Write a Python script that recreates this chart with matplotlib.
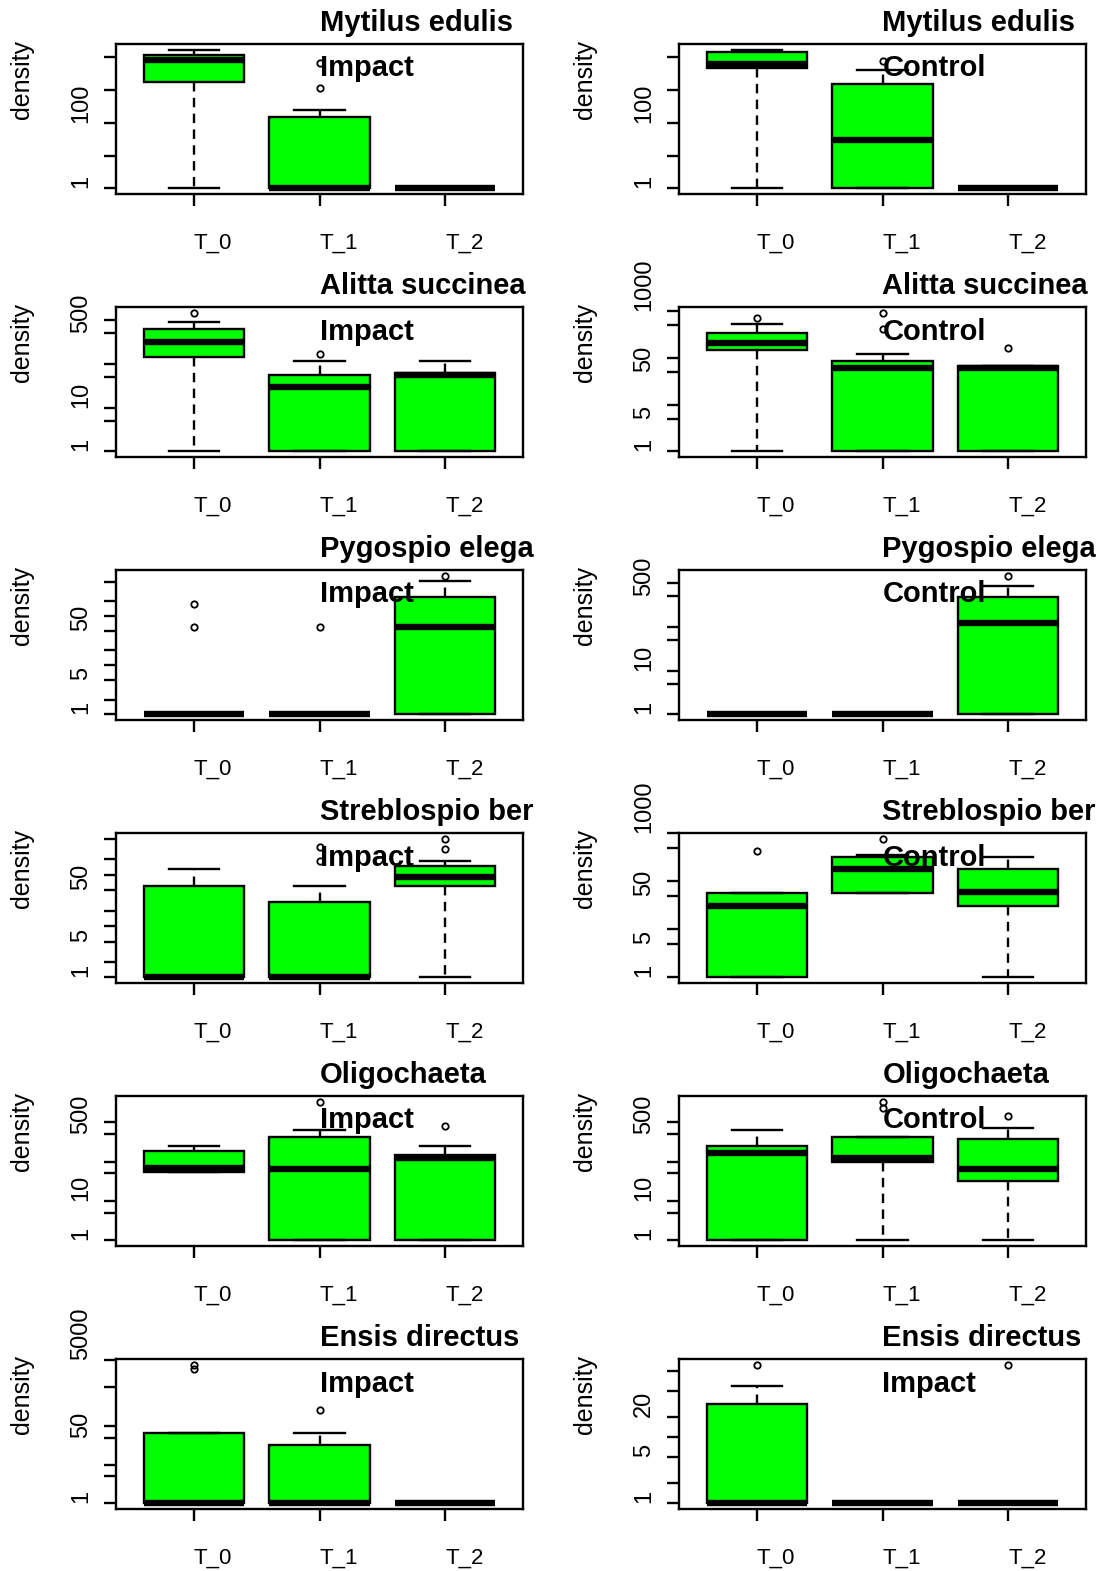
import numpy as np
import matplotlib.pyplot as plt
from matplotlib.ticker import NullLocator
from matplotlib.transforms import offset_copy

plt.rcParams['font.family'] = ['Liberation Sans', 'DejaVu Sans']

W, H = 1110, 1571

groups = ['T_0', 'T_1', 'T_2']
titles = ['Mytilus edulis', 'Mytilus edulis',
          'Alitta succinea', 'Alitta succinea',
          'Pygospio elega', 'Pygospio elega',
          'Streblospio ber', 'Streblospio ber',
          'Oligochaeta', 'Oligochaeta',
          'Ensis directus', 'Ensis directus']
sites = ['Impact', 'Control'] * 5 + ['Impact', 'Impact']

# (lower whisker, Q1, median, Q3, upper whisker) for T_0, T_1, T_2
mytilus_imp = [(1, 1720, 8300, 11800, 16800), (1, 1, 1, 152, 250), (1, 1, 1, 1, 1)]
mytilus_ctl = [(1, 4570, 6200, 14500, 16800), (1, 1, 29.5, 1490, 4030), (1, 1, 1, 1, 1)]
alitta_imp = [(1, 145, 310, 620, 900), (1, 1, 30, 56, 117), (1, 1, 55, 63, 117)]
alitta_ctl = [(1, 147, 202, 338, 514), (1, 1, 61, 85, 118), (1, 1, 59, 67, 67)]
pygo_imp = [(1, 1, 1, 1, 1), (1, 1, 1, 1, 1), (1, 1, 60, 247, 512)]
pygo_ctl = [(1, 1, 1, 1, 1), (1, 1, 1, 1, 1), (1, 1, 124, 485, 871)]
streb_imp = [(1, 1, 1, 61, 128), (1, 1, 1, 30, 61), (1, 61, 92, 149, 190)]
streb_ctl = [(1, 1, 30, 58, 58), (58, 58, 180, 313, 352), (1, 30, 59, 183, 313)]
oligo_imp = [(55, 55, 68, 191, 248), (1, 1, 65, 422, 650), (1, 1, 124, 149, 248)]
oligo_ctl = [(1, 1, 167, 248, 650), (1, 97, 122, 422, 422), (1, 33, 64, 366, 718)]
ensis_imp = [(1, 1, 1, 66, 66), (1, 1, 1, 33, 66), (1, 1, 1, 1, 1)]
ensis_ctl = [(1, 1, 1, 31, 59), (1, 1, 1, 1, 1), (1, 1, 1, 1, 1)]

# outliers per group
mytilus_imp_out = [[], [1120, 6600], []]
mytilus_ctl_out = [[], [7670], []]
alitta_imp_out = [[1480], [165], []]
alitta_ctl_out = [[715], [412, 919], [165]]
pygo_imp_out = [[60, 175], [60], [668]]
pygo_ctl_out = [[], [], [1480]]
streb_imp_out = [[], [190, 349], [318, 510]]
streb_ctl_out = [[435], [771], []]
oligo_imp_out = [[], [3340], [808]]
oligo_ctl_out = [[], [2245, 3340], [1425]]
ensis_imp_out = [[2910, 3880], [253], []]
ensis_ctl_out = [[123], [], [123]]

# y axis ticks and the labels R actually printed
ticks_dec = [1, 10, 100, 1000, 10000]
ticks_15 = [1, 5, 10, 50, 100, 500, 1000]
ticks_125 = [1, 2, 5, 10, 20, 50, 100, 200, 500]
ticks_ensis_imp = [1, 5, 10, 50, 100, 1000, 5000]
ticks_ensis_ctl = [1, 2, 5, 10, 20, 50, 100]

panels = [
    (mytilus_imp, mytilus_imp_out, ticks_dec, [1, 100]),
    (mytilus_ctl, mytilus_ctl_out, ticks_dec, [1, 100]),
    (alitta_imp, alitta_imp_out, ticks_15, [1, 10, 500]),
    (alitta_ctl, alitta_ctl_out, ticks_15, [1, 5, 50, 1000]),
    (pygo_imp, pygo_imp_out, ticks_125, [1, 5, 50]),
    (pygo_ctl, pygo_ctl_out, ticks_15, [1, 10, 500]),
    (streb_imp, streb_imp_out, ticks_125, [1, 5, 50]),
    (streb_ctl, streb_ctl_out, ticks_15, [1, 5, 50, 1000]),
    (oligo_imp, oligo_imp_out, ticks_15, [1, 10, 500]),
    (oligo_ctl, oligo_ctl_out, ticks_15, [1, 10, 500]),
    (ensis_imp, ensis_imp_out, ticks_ensis_imp, [1, 50, 5000]),
    (ensis_ctl, ensis_ctl_out, ticks_ensis_ctl, [1, 5, 20]),
]

fig = plt.figure(figsize=(W / 100, H / 100), dpi=100)

col_x = [116, 679]
box_w, box_h = 407, 150
lw = 1.7

for k, (summ, outs, ticks, shown) in enumerate(panels):
    row, col = divmod(k, 2)
    top = 44 + 263 * row
    ax = fig.add_axes([col_x[col] / W, 1 - (top + box_h) / H, box_w / W, box_h / H])

    stats = []
    for (lo, q1, med, q3, hi), fl in zip(summ, outs):
        stats.append(dict(whislo=lo, q1=q1, med=med, q3=q3, whishi=hi, fliers=fl))
    ax.bxp(stats, positions=[1, 2, 3], widths=0.8, patch_artist=True,
           manage_ticks=False, capwidths=0.4,
           boxprops=dict(facecolor='#00ff00', edgecolor='black', linewidth=lw),
           medianprops=dict(color='black', linewidth=4.6, solid_capstyle='butt'),
           whiskerprops=dict(color='black', linewidth=lw, linestyle=(0, (4, 2.7))),
           capprops=dict(color='black', linewidth=lw),
           flierprops=dict(marker='o', markerfacecolor='none', markeredgecolor='black',
                           markersize=4.6, markeredgewidth=1.3))

    # R style log axis: data range padded by 4% on each side
    allv = [v for s in summ for v in s] + [v for f in outs for v in f]
    lmin, lmax = np.log10(min(allv)), np.log10(max(allv))
    pad = 0.04 * (lmax - lmin)
    ax.set_yscale('log')
    ax.set_ylim(10 ** (lmin - pad), 10 ** (lmax + pad))
    ax.set_xlim(0.38, 3.62)

    ax.set_yticks(ticks, [str(t) if t in shown else '' for t in ticks])
    ax.yaxis.set_minor_locator(NullLocator())
    ax.set_xticks([1, 2, 3], groups)
    ax.tick_params(axis='both', direction='out', length=8.6, width=lw, labelsize=16)
    ax.tick_params(axis='y', labelsize=17, pad=8.5)
    ax.tick_params(axis='x', pad=31)
    plt.setp(ax.get_xticklabels(), ha='left', va='baseline')
    plt.setp(ax.get_yticklabels(), rotation=90, ha='right', va='bottom')
    for sp in ax.spines.values():
        sp.set_linewidth(lw)

    # R on this device anchors text at its start instead of its middle
    t_title = offset_copy(ax.get_xaxis_transform(), fig=fig, x=0, y=13.3, units='dots')
    ax.text(2, 1, titles[k], transform=t_title, ha='left', va='baseline',
            fontsize=21, fontweight='bold', clip_on=False)
    t_site = offset_copy(ax.get_xaxis_transform(), fig=fig, x=0, y=-32.5, units='dots')
    ax.text(2, 1, sites[k], transform=t_site, ha='left', va='baseline',
            fontsize=21, fontweight='bold', clip_on=False)

    fig.text((col_x[col] - 94) / W, 1 - (top + 75) / H, 'density', rotation=90,
             ha='center', va='bottom', fontsize=18)

fig.savefig('out.png', dpi=100)
